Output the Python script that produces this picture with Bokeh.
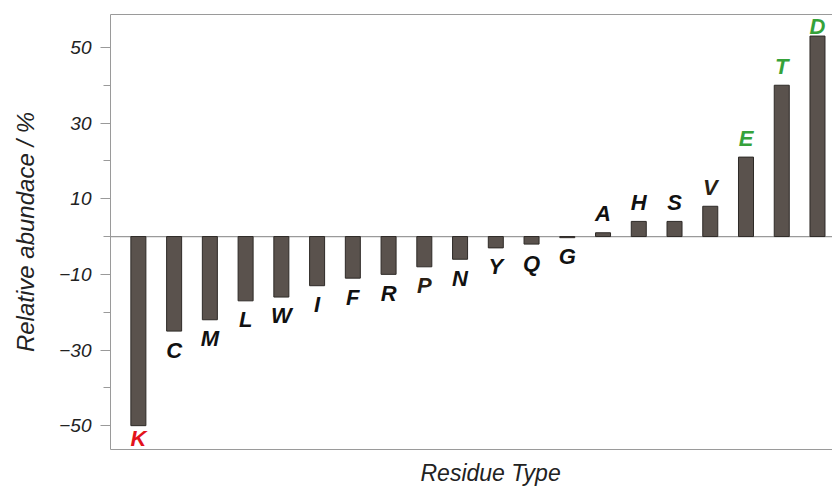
from bokeh.plotting import figure
from bokeh.models import ColumnDataSource, FixedTicker, LinearAxis, Range1d, Title
from bokeh.core.properties import value
from bokeh.embed import file_html
from bokeh.resources import INLINE

residues = ["K", "C", "M", "L", "W", "I", "F", "R", "P", "N",
            "Y", "Q", "G", "A", "H", "S", "V", "E", "T", "D"]
abundance = [-50, -25, -22, -17, -16, -13, -11, -10, -8, -6,
             -3, -2, -0.3, 1, 4, 4, 8, 21, 40, 53]
label_colors = ["#e3121b", "#111111", "#111111", "#111111", "#111111",
                "#111111", "#111111", "#111111", "#2a1f14", "#111111",
                "#111111", "#111111", "#111111", "#111111", "#111111",
                "#111111", "#2a1f14", "#35a23a", "#35a23a", "#35a23a"]
major_ticks = [-50, -30, -10, 10, 30, 50]
minor_ticks = [-40, -20, 0, 20, 40]

Y_MIN, Y_MAX = -56.3, 58.7
X_MIN, X_MAX = -0.78, 19.42
LABEL_GAP = 5.0

xs = list(range(len(residues)))
label_y = []
for v in abundance:
    if v >= 0:
        label_y.append(min(v + LABEL_GAP, Y_MAX - 3.2))
    else:
        label_y.append(max(v - LABEL_GAP, Y_MIN + 2.9))

src = ColumnDataSource(dict(x=xs, top=abundance, ly=label_y,
                            name=residues, color=label_colors))

p = figure(width=832, height=494, output_backend="svg", toolbar_location=None,
           x_range=Range1d(X_MIN, X_MAX), y_range=Range1d(Y_MIN, Y_MAX),
           min_border_left=110, min_border_right=0, min_border_top=14,
           min_border_bottom=45, x_axis_type=None, y_axis_type=None)
p.outline_line_color = None
p.grid.visible = False
p.background_fill_color = "white"
p.border_fill_color = "white"

font = "Liberation Sans"
axis_col = "#9a9a9a"
text_col = "#222222"

# left y axis
yax = LinearAxis(ticker=FixedTicker(ticks=major_ticks, minor_ticks=minor_ticks))
yax.major_label_overrides = {t: str(t).replace("-", "\u2212") for t in major_ticks}
yax.axis_line_color = axis_col
yax.major_tick_line_color = axis_col
yax.minor_tick_line_color = axis_col
yax.major_tick_out = 10
yax.major_tick_in = 0
yax.minor_tick_out = 7
yax.minor_tick_in = 0
yax.major_label_standoff = 9
yax.major_label_text_font = font
yax.major_label_text_font_style = "italic"
yax.major_label_text_font_size = "19px"
yax.major_label_text_color = text_col
yax.axis_label = "Relative abundace / %"
yax.axis_label_text_font = font
yax.axis_label_text_font_style = "italic"
yax.axis_label_text_font_size = "24px"
yax.axis_label_text_color = text_col
yax.axis_label_standoff = 17
p.add_layout(yax, "left")

# bottom x axis (line only)
xax = LinearAxis(ticker=FixedTicker(ticks=[]))
xax.axis_line_color = axis_col
xax.major_tick_line_color = None
xax.minor_tick_line_color = None
xax.major_label_text_font_size = "0px"
p.add_layout(xax, "below")

# x axis title
xt = Title(text="Residue Type", align="left", offset=310,
           text_font=font, text_font_style="italic", text_font_size="23px",
           text_color=text_col, standoff=16)
p.add_layout(xt, "below")

# top line
tax = LinearAxis(ticker=FixedTicker(ticks=[]))
tax.axis_line_color = axis_col
tax.major_tick_line_color = None
tax.minor_tick_line_color = None
tax.major_label_text_font_size = "0px"
p.add_layout(tax, "above")

# zero line
p.line(x=[X_MIN, X_MAX], y=[0, 0], line_color=axis_col, line_width=1.2)

p.vbar(x="x", top="top", bottom=0, width=0.42, source=src,
       fill_color="#5a524d", line_color="#2e2a27", line_width=1)

p.text(x="x", y="ly", text="name", source=src, text_color="color",
       text_font=value(font), text_font_style="bold italic",
       text_font_size="22px", text_align="center", text_baseline="middle")

open("out.html", "w").write(file_html(p, INLINE))
